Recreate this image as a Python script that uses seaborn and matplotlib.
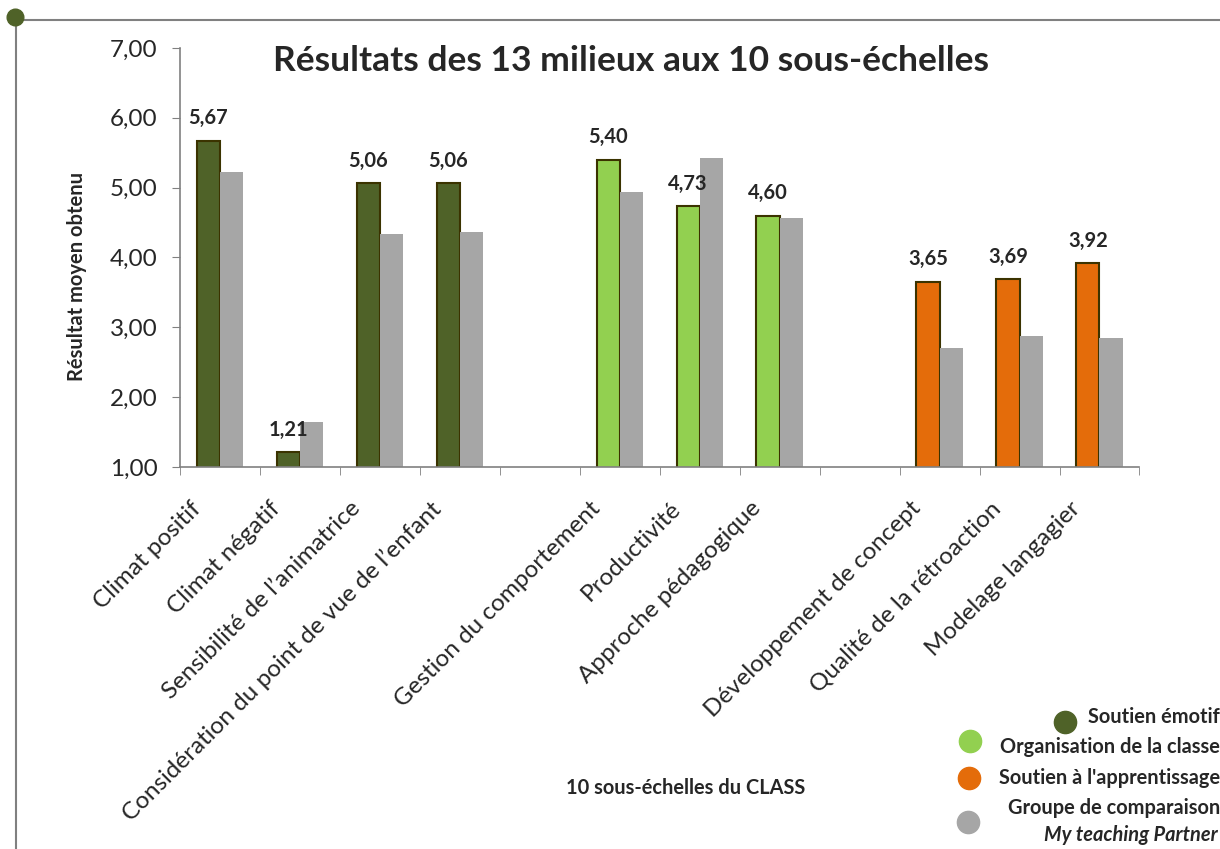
import numpy as np
import pandas as pd
import matplotlib.pyplot as plt
import seaborn as sns
from matplotlib.lines import Line2D
from matplotlib.ticker import FuncFormatter
from matplotlib.transforms import ScaledTranslation

# sous-échelles du CLASS (two blank slots separate the three domains)
categories = ["Climat positif", "Climat négatif", "Sensibilité de l’animatrice",
              "Considération du point de vue de l’enfant", "_gap1",
              "Gestion du comportement", "Productivité", "Approche pédagogique", "_gap2",
              "Développement de concept", "Qualité de la rétroaction", "Modelage langagier"]
domains = ["emotif", "emotif", "emotif", "emotif", None,
           "organisation", "organisation", "organisation", None,
           "apprentissage", "apprentissage", "apprentissage"]
milieux = [5.67, 1.21, 5.06, 5.06, np.nan, 5.40, 4.73, 4.60, np.nan, 3.65, 3.69, 3.92]
comparaison = [5.23, 1.64, 4.34, 4.37, np.nan, 4.94, 5.43, 4.57, np.nan, 2.70, 2.88, 2.85]

domain_colors = {"emotif": "#4f6228", "organisation": "#92d050", "apprentissage": "#e46c0a"}
gray = "#a6a6a6"
edge = "#3b3300"

rows = []
for c, m, g in zip(categories, milieux, comparaison):
    if not np.isnan(m):
        rows.append({"cat": c, "groupe": "milieux", "val": m})
        rows.append({"cat": c, "groupe": "comparaison", "val": g})
df = pd.DataFrame(rows)

sns.set_style("white")
plt.rcParams['font.family'] = ['Lato', 'DejaVu Sans']

fig = plt.figure(figsize=(12.2, 8.49), dpi=100)
ax = fig.add_axes([0.1475, 0.45, 0.7865, 0.4935])

sns.barplot(data=df, x="cat", y="val", hue="groupe", order=categories,
            hue_order=["milieux", "comparaison"], width=0.58, gap=0,
            palette=["#4f6228", gray], errorbar=None, legend=False, ax=ax)

# recolour the programme bars by domain, label them
cont_m, cont_g = ax.containers[0], ax.containers[1]
bars_m = [b for b in cont_m if not np.isnan(b.get_height())]
bars_g = [b for b in cont_g if not np.isnan(b.get_height())]
for b in bars_m:
    idx = int(round(b.get_x() + b.get_width()))
    d = domains[idx]
    b.set_facecolor(domain_colors[d])
    b.set_edgecolor(edge)
    b.set_linewidth(1.5)
    v = milieux[idx]
    ax.annotate(f"{v:.2f}".replace(".", ","), (b.get_x() + b.get_width() / 2, v),
                xytext=(0, 9), textcoords="offset points", ha="center", va="bottom",
                fontsize=14.5, fontweight="bold")
for b in bars_g:
    b.set_edgecolor("none")

ax.set_ylim(1, 7)
ax.set_yticks([1, 2, 3, 4, 5, 6, 7])
ax.yaxis.set_major_formatter(FuncFormatter(lambda v, p: f"{v:.2f}".replace(".", ",")))
ax.set_xlim(-0.5, len(categories) - 0.5)
ax.set_xticks(range(len(categories)))
ax.set_xticklabels(["" if c.startswith("_gap") else c for c in categories],
                   rotation=45, ha="right", rotation_mode="anchor", fontsize=17.5)
ax.set_xticks(np.arange(-0.5, len(categories)), minor=True)
ax.tick_params(axis="x", which="major", length=0, pad=12)
ax.tick_params(axis="x", which="minor", length=6, color="#808080", direction="out", bottom=True)
ax.tick_params(axis="y", length=6, color="#808080", direction="out", left=True, labelsize=17.5, pad=10)

# nudge the slanted labels the way the original sits them (after tick_params)
shift = ScaledTranslation(-0.30, -0.14, fig.dpi_scale_trans)
for lab in ax.get_xticklabels():
    lab.set_transform(lab.get_transform() + shift)

for s in ["top", "right"]:
    ax.spines[s].set_visible(False)
for s in ["left", "bottom"]:
    ax.spines[s].set_color("#808080")
    ax.spines[s].set_linewidth(1.2)

ax.set_xlabel("")
ax.set_ylabel("Résultat moyen obtenu", fontsize=14.5, fontweight="bold")
ax.yaxis.set_label_coords(-0.097, 0.455)
ax.set_title("Résultats des 13 milieux aux 10 sous-échelles", fontsize=25.5, fontweight="bold",
             x=0.47, y=0.945, pad=0)

fig.text(0.562, 0.072, "10 sous-échelles du CLASS", ha="center", va="center",
         fontsize=14.4, fontweight="bold")

# legend drawn by hand, right aligned like the original
legend_items = [
    ("Soutien émotif", domain_colors["emotif"], 0.155, 1065, 0.150),
    ("Organisation de la classe", domain_colors["organisation"], 0.120, 970, 0.127),
    ("Soutien à l'apprentissage", domain_colors["apprentissage"], 0.084, 969, 0.084),
    ("Groupe de comparaison", gray, 0.048, 968, 0.032),
]
for label, col, ty, mx, my in legend_items:
    fig.text(1.0, ty, label, ha="right", va="center", fontsize=14.4, fontweight="bold")
    fig.add_artist(Line2D([mx / 1220], [my], marker="o", markersize=16, color=col,
                          linestyle="none", transform=fig.transFigure))
fig.text(0.998, 0.017, "My teaching Partner", ha="right", va="center", fontsize=14.4,
         fontweight="bold", style="italic")

# outer frame with the green corner dot
fig.add_artist(Line2D([15 / 1220, 1.0], [1 - 20 / 849, 1 - 20 / 849], color="#808080",
                      lw=1.5, transform=fig.transFigure))
fig.add_artist(Line2D([16 / 1220, 16 / 1220], [1 - 20 / 849, 0], color="#808080",
                      lw=1.5, transform=fig.transFigure))
fig.add_artist(Line2D([15 / 1220], [1 - 17 / 849], marker="o", markersize=12, color="#4f6228",
                      linestyle="none", transform=fig.transFigure))

fig.savefig("out.png", dpi=100)
